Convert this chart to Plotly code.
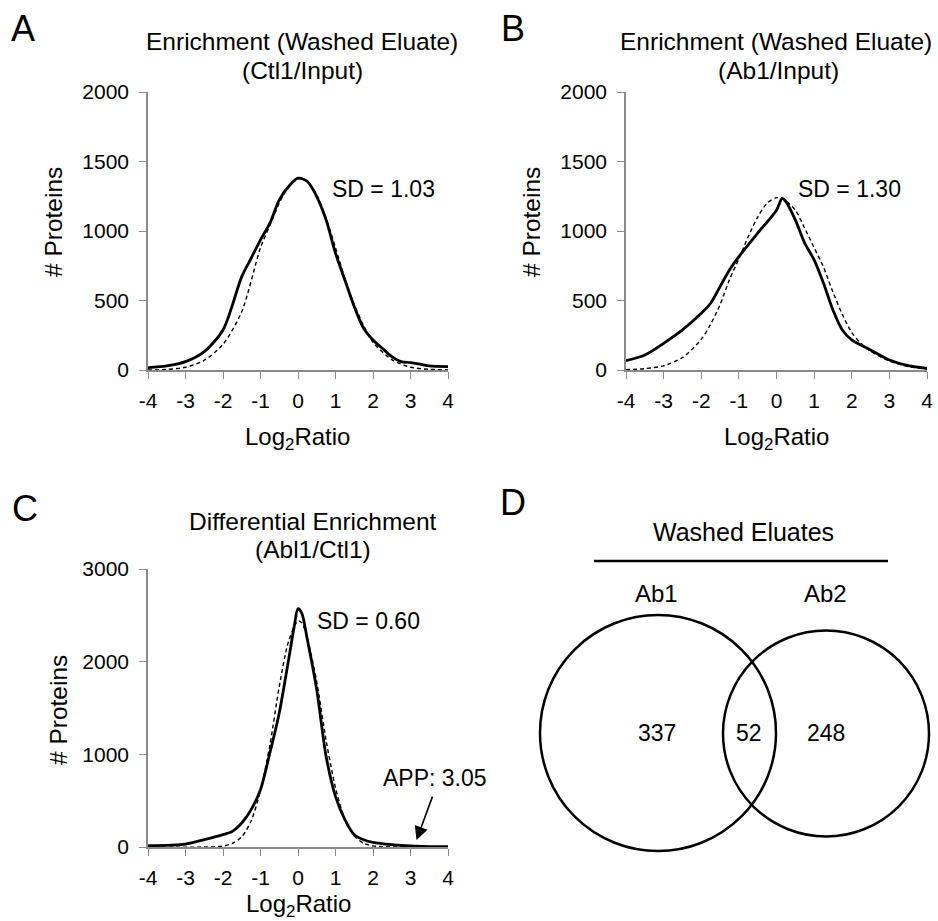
import plotly.graph_objects as go

W, H = 938, 921

# ---------------- data ----------------
# Panel A: Ctl1/Input
a_x = [-4, -3.5, -3, -2.5, -2, -1.5, -1.25, -1, -0.75, -0.5, -0.25, 0, 0.25, 0.5, 0.75, 1,
       1.25, 1.5, 1.75, 2, 2.25, 2.5, 2.75, 3, 3.25, 3.5, 4]
a_obs = [17, 29, 60, 132, 288, 672, 804, 936, 1056, 1224, 1320, 1380, 1356, 1248, 1080, 840,
         648, 456, 300, 216, 156, 96, 60, 53, 43, 29, 24]
a_fit_x = [-4, -3.5, -3, -2.5, -2, -1.5, -1, -0.75, -0.5, -0.25, 0, 0.1, 0.25, 0.5, 0.75, 1,
           1.25, 1.5, 1.75, 2, 2.5, 3, 3.5, 4]
a_fit = [0, 4, 20, 70, 185, 420, 880, 1040, 1200, 1320, 1375, 1380, 1360, 1260, 1090, 880,
         660, 470, 320, 200, 75, 20, 5, 1]

# Panel B: Ab1/Input
b_x = [-4, -3.5, -3, -2.5, -2, -1.75, -1.5, -1.25, -1, -0.5, 0, 0.15, 0.25, 0.5, 0.75, 1,
       1.25, 1.5, 1.75, 2, 2.5, 3, 3.5, 4]
b_obs = [67, 108, 192, 288, 408, 480, 600, 720, 816, 985, 1150, 1235, 1212, 1080, 912, 792,
         624, 432, 288, 216, 144, 72, 31, 12]
b_fit_x = [-4, -3.5, -3, -2.5, -2, -1.75, -1.5, -1.25, -1, -0.75, -0.5, -0.25, 0, 0.15, 0.5,
           0.75, 1, 1.25, 1.5, 1.75, 2, 2.25, 2.5, 3, 3.5, 4]
b_fit = [2, 10, 30, 90, 220, 330, 470, 650, 800, 960, 1100, 1200, 1240, 1235, 1150,
         1020, 880, 740, 560, 400, 270, 190, 135, 65, 25, 8]

# Panel C: Abl1/Ctl1
c_x = [-4, -3, -2.5, -2, -1.75, -1.5, -1.25, -1, -0.75, -0.5, -0.25, -0.1, 0, 0.1, 0.25, 0.5,
       0.75, 1, 1.25, 1.5, 1.75, 2, 2.5, 3, 3.5, 4]
c_obs = [14, 32, 79, 133, 169, 259, 403, 619, 1014, 1446, 2022, 2381, 2572, 2525, 2237, 1698,
         978, 547, 295, 133, 79, 50, 25, 11, 5, 3]
c_fit_x = [-4, -2.5, -2, -1.75, -1.5, -1.25, -1, -0.75, -0.5, -0.25, 0, 0.1, 0.25, 0.5, 0.75,
           1, 1.25, 1.5, 1.75, 2, 2.5, 3, 4]
c_fit = [0, 0, 10, 40, 110, 280, 610, 1100, 1730, 2220, 2440, 2420, 2250, 1780, 1150,
         640, 300, 120, 40, 12, 1, 0, 0]

x_ticks = [-4, -3, -2, -1, 0, 1, 2, 3, 4]
x_tick_text = ["-4", "-3", "-2", "-1", "0", "1", "2", "3", "4"]
y_ticks_ab = [0, 500, 1000, 1500, 2000]
y_ticks_c = [0, 1000, 2000, 3000]

sd_labels = ["SD = 1.03", "SD = 1.30", "SD = 0.60"]
app_label = "APP: 3.05"
app_value = 3.05

# Panel D: Venn
venn_title = "Washed Eluates"
venn_sets = ["Ab1", "Ab2"]
venn_counts = [337, 52, 248]   # Ab1 only, both, Ab2 only

FONT = "Liberation Sans, Arial, sans-serif"
BLACK = "#000000"
GRAY = "#8a8a8a"


def px(x):
    return x / W


def py(y):
    return 1 - y / H


fig = go.Figure()

solid = dict(color=BLACK, width=2.8, shape="spline", smoothing=0.8)
dashed = dict(color=BLACK, width=1.4, dash="4px,3px", shape="spline", smoothing=0.8)

for xs, ys, fx, fy, ax in [(a_x, a_obs, a_fit_x, a_fit, ("x", "y")),
                           (b_x, b_obs, b_fit_x, b_fit, ("x2", "y2")),
                           (c_x, c_obs, c_fit_x, c_fit, ("x3", "y3"))]:
    fig.add_trace(go.Scatter(x=fx, y=fy, mode="lines", line=dashed,
                             xaxis=ax[0], yaxis=ax[1], showlegend=False, hoverinfo="skip"))
    fig.add_trace(go.Scatter(x=xs, y=ys, mode="lines", line=solid,
                             xaxis=ax[0], yaxis=ax[1], showlegend=False, hoverinfo="skip"))

axis_common = dict(showline=True, linecolor=GRAY, linewidth=1.5, showgrid=False, zeroline=False,
                   ticks="outside", tickcolor=GRAY, ticklen=7, tickwidth=1.3, automargin=False,
                   tickfont=dict(family=FONT, size=21, color=BLACK))

# domains (pixel measured)
xa = [px(148), px(448)]
xb = [px(626), px(927)]
y_top = [py(370), py(92)]
y_bot = [py(847), py(569)]

xcommon = dict(range=[-4, 4], tickvals=x_ticks, ticktext=x_tick_text, ticklabelstandoff=4)

fig.update_layout(
    template="none",
    width=W, height=H, margin=dict(l=0, r=0, t=0, b=0, pad=0),
    paper_bgcolor="white", plot_bgcolor="white",
    xaxis=dict(domain=xa, anchor="y", **xcommon, **axis_common),
    yaxis=dict(domain=y_top, range=[0, 2000], tickvals=y_ticks_ab, anchor="x",
               ticklabelstandoff=6, **axis_common),
    xaxis2=dict(domain=xb, anchor="y2", **xcommon, **axis_common),
    yaxis2=dict(domain=y_top, range=[0, 2000], tickvals=y_ticks_ab, anchor="x2",
                ticklabelstandoff=6, **axis_common),
    xaxis3=dict(domain=xa, anchor="y3", **xcommon, **axis_common),
    yaxis3=dict(domain=y_bot, range=[0, 3000], tickvals=y_ticks_c, anchor="x3",
                ticklabelstandoff=6, **axis_common),
    xaxis4=dict(domain=[px(500), 1], range=[0, W - 500], visible=False, anchor="y4",
                fixedrange=True, automargin=False),
    yaxis4=dict(domain=[0, py(460)], range=[0, H - 460], visible=False, anchor="x4",
                fixedrange=True, automargin=False),
)

ann = []


def text(x, y, s, size=22, xanchor="center", yanchor="middle", **kw):
    ann.append(dict(x=px(x), y=py(y), xref="paper", yref="paper", text=s, showarrow=False,
                    xanchor=xanchor, yanchor=yanchor,
                    font=dict(family=FONT, size=size, color=BLACK), **kw))


# panel letters
text(23, 28, "A", size=36)
text(513, 28, "B", size=36)
text(25, 508, "C", size=36)
text(513, 502, "D", size=36)

# titles
text(302, 41, "Enrichment (Washed Eluate)", size=24.5)
text(302, 70, "(Ctl1/Input)", size=24.5)
text(776, 41, "Enrichment (Washed Eluate)", size=24.5)
text(778, 70, "(Ab1/Input)", size=24.5)
text(313, 521, "Differential Enrichment", size=24.5)
text(313, 549, "(Abl1/Ctl1)", size=24.5)

# axis titles
text(53, 222, "# Proteins", size=24.5, textangle=-90)
text(531, 222, "# Proteins", size=24.5, textangle=-90)
text(58, 710, "# Proteins", size=24.5, textangle=-90)
log2 = "Log<sub>2</sub>Ratio"
text(297, 438, log2, size=24)
text(776, 438, log2, size=24)
text(298, 905, log2, size=24)

# SD labels (data coords)
for s, xr, yr, xv, yv in [(sd_labels[0], "x", "y", 0.85, 1300),
                          (sd_labels[1], "x2", "y2", 0.53, 1300),
                          (sd_labels[2], "x3", "y3", 0.44, 2440)]:
    ann.append(dict(x=xv, y=yv, xref=xr, yref=yr, text=s, showarrow=False, xanchor="left",
                    yanchor="middle", font=dict(family=FONT, size=23, color=BLACK)))

# APP arrow
ann.append(dict(x=app_value + 0.11, y=75, xref="x3", yref="y3", ax=3.6, ay=560,
                axref="x3", ayref="y3", showarrow=True, arrowhead=2, arrowsize=1.7,
                arrowwidth=1.6, arrowcolor=BLACK, text=""))
ann.append(dict(x=2.2, y=745, xref="x3", yref="y3", text=app_label, showarrow=False,
                xanchor="left", yanchor="middle", font=dict(family=FONT, size=23, color=BLACK)))

# Venn diagram (axis x4/y4 in pixel-like units)
venn_cx = [158, 326]
venn_cy = [188, 187.5]
venn_r = [118, 103]
shapes = []
for cx, cy, r in zip(venn_cx, venn_cy, venn_r):
    shapes.append(dict(type="circle", xref="x4", yref="y4", x0=cx - r, x1=cx + r,
                       y0=cy - r, y1=cy + r, line=dict(color=BLACK, width=2.5)))
shapes.append(dict(type="line", xref="x4", yref="y4", x0=94, x1=388, y0=360, y1=360,
                   line=dict(color=BLACK, width=2.5)))

for s, xv, yv, sz in [(venn_title, 243, 389, 25), (venn_sets[0], 156, 328, 24),
                      (venn_sets[1], 325, 328, 24),
                      (str(venn_counts[0]), 157, 188, 23), (str(venn_counts[1]), 249, 188, 23),
                      (str(venn_counts[2]), 326, 188, 23)]:
    ann.append(dict(x=xv, y=yv, xref="x4", yref="y4", text=s, showarrow=False,
                    font=dict(family=FONT, size=sz, color=BLACK)))

fig.update_layout(annotations=ann, shapes=shapes)
fig.write_html("out.html", config={"displayModeBar": False},
               post_script="document.body.style.margin='0px';")
